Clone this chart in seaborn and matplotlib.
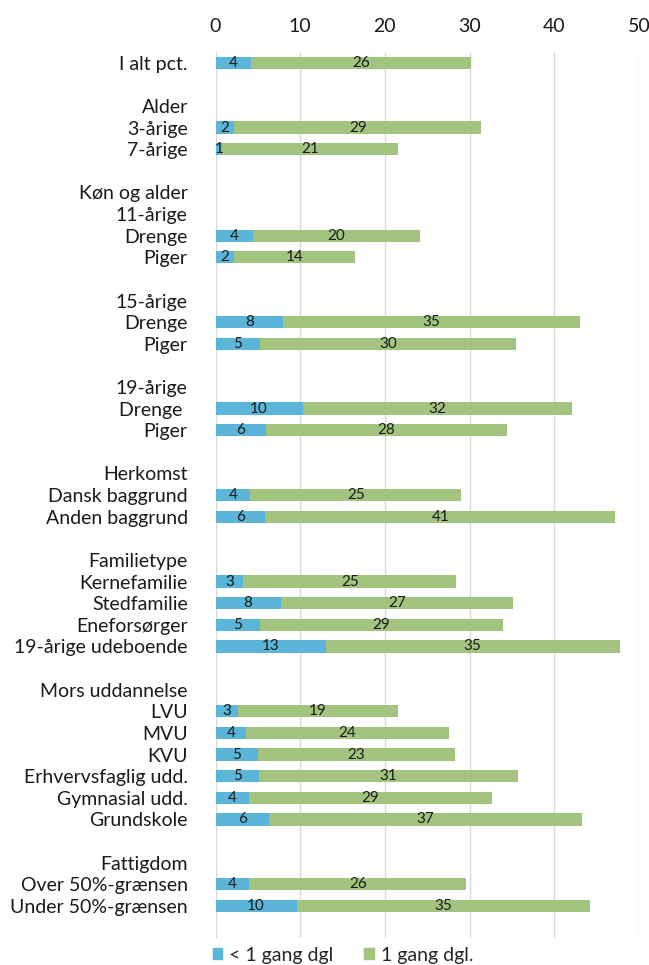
import numpy as np
import pandas as pd
import matplotlib.pyplot as plt
import seaborn as sns
from matplotlib.patches import Patch

nan = np.nan

labels = ["I alt pct.", "", "Alder", "3-årige", "7-årige", "",
          "Køn og alder", "11-årige", "Drenge", "Piger", "",
          "15-årige", "Drenge", "Piger", "",
          "19-årige", "Drenge ", "Piger", "",
          "Herkomst", "Dansk baggrund", "Anden baggrund", "",
          "Familietype", "Kernefamilie", "Stedfamilie", "Eneforsørger", "19-årige udeboende", "",
          "Mors uddannelse", "LVU", "MVU", "KVU", "Erhvervsfaglig udd.", "Gymnasial udd.", "Grundskole", "",
          "Fattigdom", "Over 50%-grænsen", "Under 50%-grænsen", ""]

# < 1 gang dgl
under = [4.2, nan, nan, 2.2, 0.8, nan,
         nan, nan, 4.4, 2.2, nan,
         nan, 8.0, 5.2, nan,
         nan, 10.3, 6.0, nan,
         nan, 4.1, 5.9, nan,
         nan, 3.3, 7.7, 5.3, 13.0, nan,
         nan, 2.6, 3.6, 5.0, 5.1, 3.9, 6.3, nan,
         nan, 4.0, 9.6, nan]

# 1 gang dgl.
daily = [26.0, nan, nan, 29.2, 20.7, nan,
         nan, nan, 19.7, 14.3, nan,
         nan, 35.0, 30.3, nan,
         nan, 31.8, 28.4, nan,
         nan, 24.9, 41.3, nan,
         nan, 25.1, 27.4, 28.6, 34.7, nan,
         nan, 19.0, 24.0, 23.3, 30.6, 28.7, 37.0, nan,
         nan, 25.6, 34.6, nan]

legend_labels = ["< 1 gang dgl", "1 gang dgl."]
blue = "#5bb5d8"
green = "#a3c47e"

sns.set_style("white")
plt.rcParams['font.family'] = ['Lato', 'DejaVu Sans']

n = len(labels)
df = pd.DataFrame({'row': range(n), 'under': under, 'daily': daily})
df['total'] = df['under'] + df['daily']
d = df.dropna()

fig = plt.figure(figsize=(6.49, 9.65), dpi=100)
ax = fig.add_axes([215.5 / 649, 1 - 938.3 / 965, (639 - 215.5) / 649, (938.3 - 51.9) / 965])

sns.barplot(data=d, x='total', y='row', orient='h', order=list(range(n)),
            color=green, saturation=1, width=0.57, linewidth=0, ax=ax)
sns.barplot(data=d, x='under', y='row', orient='h', order=list(range(n)),
            color=blue, saturation=1, width=0.57, linewidth=0, ax=ax)

for _, r in d.iterrows():
    ax.text(r['under'] / 2, r['row'], f"{r['under']:.0f}", ha='center', va='center',
            fontsize=11, color='#1a1a1a')
    ax.text(r['under'] + r['daily'] / 2, r['row'], f"{r['daily']:.0f}", ha='center', va='center',
            fontsize=11, color='#1a1a1a')

ax.set_xlim(0, 50)
ax.set_ylim(n - 0.5, -0.5)
ax.set_xticks(range(0, 51, 10))
ax.xaxis.tick_top()
ax.set_yticks(range(n))
ax.set_yticklabels(labels)
ax.tick_params(axis='y', length=0, pad=20, labelsize=14, labelcolor='#1a1a1a')
ax.tick_params(axis='x', length=0, pad=12, labelsize=14, labelcolor='#1a1a1a')
ax.set_xlabel('')
ax.set_ylabel('')
ax.grid(axis='x', color='#d9d9d9', linewidth=1)
ax.set_axisbelow(True)
for s in ax.spines.values():
    s.set_visible(False)

handles = [Patch(color=blue), Patch(color=green)]
fig.legend(handles, legend_labels, loc='center', bbox_to_anchor=(343 / 649, 1 - 955 / 965),
           ncol=2, frameon=False, fontsize=14, handlelength=0.5, handleheight=0.5,
           columnspacing=1.6, handletextpad=0.35)

fig.savefig('out.png', dpi=100)
